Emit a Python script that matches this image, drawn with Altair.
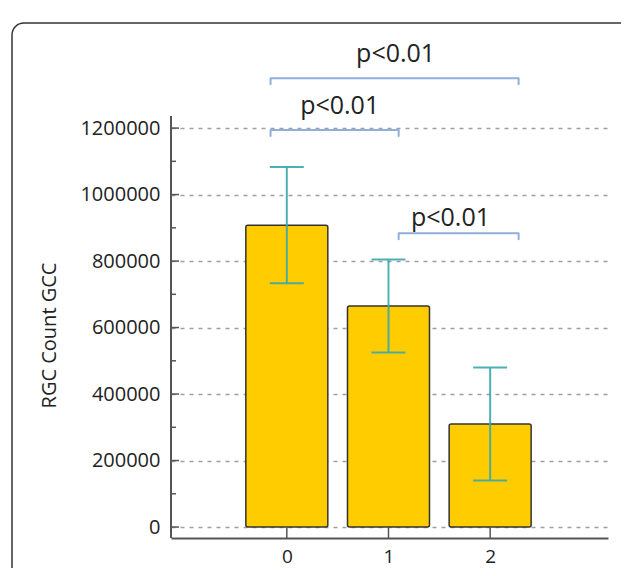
import altair as alt
import pandas as pd

# ---- data ----
groups = [0, 1, 2]
rgc_mean = [908000, 665000, 310000]
rgc_err = [175000, 140000, 170000]

y_tick_values = [0, 200000, 400000, 600000, 800000, 1000000, 1200000]
y_minor_values = [100000, 300000, 500000, 700000, 900000, 1100000]
x_tick_values = [0, 1, 2]

p_labels = ["p<0.01", "p<0.01", "p<0.01"]
bracket_left = [-0.16, -0.16, 1.10]
bracket_right = [2.28, 1.10, 2.28]
bracket_level = [1350000, 1194000, 884000]
bracket_drop = 18000
p_text_x = [1.07, 0.52, 1.61]
p_text_y = [1422000, 1266000, 929000]

x_domain = [-1.09, 3.11]
y_domain = [-33000, 1480000]
y_axis_top = 1236000

FONT = "Open Sans"
AX = "#555555"
Y_TITLE = "RGC Count GCC"

xs = alt.Scale(domain=x_domain, nice=False, zero=False)
ys = alt.Scale(domain=y_domain, nice=False, zero=False)

ax_x = alt.Axis(values=x_tick_values, format="d", grid=False, ticks=False,
                tickSize=0, domainColor=AX, domainWidth=2, labelPadding=9,
                labelFont=FONT, labelFontSize=19, labelColor="#222222")
ax_y = alt.Axis(values=y_tick_values, format="d", grid=True, gridDash=[4, 5],
                gridColor="#a0a0a0", gridWidth=1.5, domain=False, ticks=False,
                tickSize=0, labelPadding=11, labelFont=FONT, labelFontSize=20,
                labelColor="#222222", titleFont=FONT, titleFontSize=20,
                titleFontWeight="normal", titleColor="#222222", titleAngle=270,
                titleX=-116, titleY=300, titleAlign="center",
                titleBaseline="alphabetic")


def X(field):
    return alt.X(field, scale=xs, axis=ax_x, title="")


def Y(field):
    return alt.Y(field, scale=ys, axis=ax_y, title=Y_TITLE)


bars_df = pd.DataFrame({
    "group": groups,
    "mean": rgc_mean,
    "zero": [0] * len(groups),
    "lo": [m - e for m, e in zip(rgc_mean, rgc_err)],
    "hi": [m + e for m, e in zip(rgc_mean, rgc_err)],
})

caps_df = pd.DataFrame({
    "group": groups + groups,
    "val": list(bars_df["lo"]) + list(bars_df["hi"]),
})

br_rows = []
for i in range(len(p_labels)):
    pts = [
        (bracket_left[i], bracket_level[i] - bracket_drop),
        (bracket_left[i], bracket_level[i]),
        (bracket_right[i], bracket_level[i]),
        (bracket_right[i], bracket_level[i] - bracket_drop),
    ]
    for k, (bx, by) in enumerate(pts):
        br_rows.append({"id": i, "k": k, "bx": bx, "by": by})
br_df = pd.DataFrame(br_rows)

txt_df = pd.DataFrame({"label": p_labels, "tx": p_text_x, "ty": p_text_y})

one = pd.DataFrame({"a": [0]})
FR = "#333333"
frame_top = alt.Chart(one).mark_rule(color=FR, strokeWidth=1.5).encode(
    x=alt.value(-147), x2=alt.value(700), y=alt.value(-12))
frame_left = alt.Chart(one).mark_rule(color=FR, strokeWidth=1.5).encode(
    x=alt.value(-159), y=alt.value(0), y2=alt.value(700))
frame_corner = alt.Chart(one).mark_arc(color=FR).encode(
    x=alt.value(-147), y=alt.value(0),
    theta=alt.value(4.71239), theta2=alt.value(6.28319),
    radius=alt.value(12.75), radius2=alt.value(11.25))

bars = alt.Chart(bars_df).mark_bar(
    size=82, color="#FFCC00", stroke="#333333", strokeWidth=1.5, cornerRadius=2
).encode(x=X("group:Q"), y=Y("mean:Q"), y2="zero:Q")

err = alt.Chart(bars_df).mark_rule(color="#3aa8ac", strokeWidth=2, opacity=0.9).encode(
    x=X("group:Q"), y=Y("lo:Q"), y2="hi:Q")
caps = alt.Chart(caps_df).mark_tick(
    orient="horizontal", size=34, thickness=2, color="#3aa8ac", opacity=0.9
).encode(x=X("group:Q"), y=Y("val:Q"))

ymaj = alt.Chart(pd.DataFrame({"v": y_tick_values})).mark_rule(color=AX, strokeWidth=1.5).encode(
    y=Y("v:Q"), x=alt.value(0), x2=alt.value(8))
ymin = alt.Chart(pd.DataFrame({"v": y_minor_values})).mark_rule(color=AX, strokeWidth=1.5).encode(
    y=Y("v:Q"), x=alt.value(0), x2=alt.value(5))
ydom = alt.Chart(pd.DataFrame({"a": [y_domain[0]], "b": [y_axis_top]})).mark_rule(
    color=AX, strokeWidth=2).encode(y=Y("a:Q"), y2="b:Q", x=alt.value(0))
xtk = alt.Chart(pd.DataFrame({"v": x_tick_values, "a": [y_domain[0]] * 3, "b": [0] * 3})).mark_rule(
    color=AX, strokeWidth=1.5).encode(x=X("v:Q"), y=Y("a:Q"), y2="b:Q")

brackets = alt.Chart(br_df).mark_line(
    color="#8eb0dc", strokeWidth=2, strokeJoin="round", strokeCap="round"
).encode(x=X("bx:Q"), y=Y("by:Q"), detail="id:N", order="k:Q")

texts = alt.Chart(txt_df).mark_text(font=FONT, fontSize=25, color="#222222").encode(
    x=X("tx:Q"), y=Y("ty:Q"), text="label:N")

chart = alt.layer(
    bars, err, caps, ymaj, ymin, ydom, xtk, brackets, texts,
    frame_top, frame_left, frame_corner
).properties(
    width=437, height=503,
    autosize=alt.AutoSizeParams(type="none"),
    padding={"left": 163, "top": 27, "right": 13, "bottom": 30},
).configure_view(stroke=None)

chart.save("out.html", embed_options={"renderer": "svg", "actions": False})
